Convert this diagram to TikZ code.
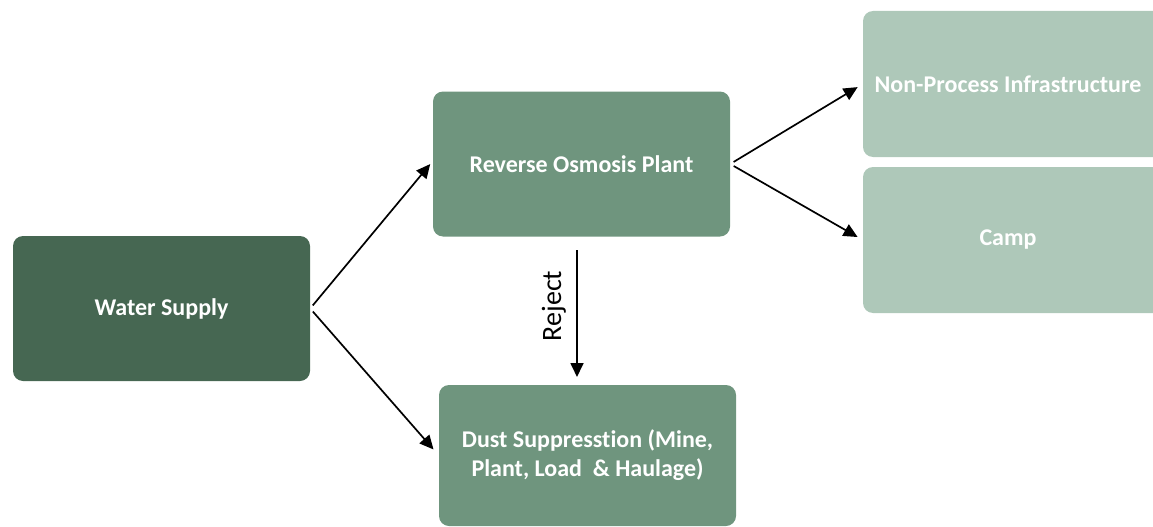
\documentclass[tikz,border=0pt]{standalone}
\usepackage{fontspec}
\setmainfont[Ligatures={NoCommon}, RawFeature={-liga;-dlig}]{Carlito}
\usetikzlibrary{arrows.meta}
\definecolor{darkgreen}{RGB}{70,103,82}
\definecolor{midgreen}{RGB}{111,149,126}
\definecolor{lightgreen}{RGB}{174,200,185}
\begin{document}
\begin{tikzpicture}[x=1pt,y=-1pt,
  box/.style={rounded corners=10pt, minimum width=297pt, minimum height=145pt,
    inner sep=0pt, text=white, align=center,
    font=\bfseries\fontsize{24}{29}\selectfont},
  flow/.style={line width=1.7pt, -{Triangle[length=14pt,width=13pt]}}]
\useasboundingbox (0,0) rectangle (1153,527);

% process boxes
\node[box, fill=darkgreen] (ws) at (161.5,308.5) {Water Supply};
\node[box, fill=midgreen] (ro) at (581.5,164) {Reverse Osmosis Plant};
\node[box, fill=midgreen, minimum height=141pt] (dust) at (587.5,455.5)
  {\raisebox{-2pt}{Dust Suppresstion (Mine,}\\\raisebox{-2pt}{Plant, Load\ \ \& Haulage)}};
\node[box, fill=lightgreen, minimum width=300pt, minimum height=146pt] (npi) at (1013,84)
  {\hspace*{-10pt}Non-Process Infrastructure};
\node[box, fill=lightgreen, minimum width=300pt, minimum height=146pt] (camp) at (1013,240)
  {\hspace*{-10pt}\raisebox{-3pt}{Camp}};

% flows
\draw[flow, shorten <=4pt, shorten >=4pt] (ws.east) -- ([yshift=3pt]ro.west);
\draw[flow, shorten <=4pt, shorten >=8pt] (ws.east) -- (dust.west);
\draw[flow, shorten <=4pt, shorten >=6pt] (ro.east) -- (npi.west);
\draw[flow, shorten <=4pt, shorten >=6pt] (ro.east) -- (camp.west);

% reject stream
\coordinate (rejtop) at (577,250);
\coordinate (rejend) at (577,377);
\draw[flow] (rejtop) -- (rejend);
\node[rotate=90, font=\fontsize{28}{32}\selectfont, inner sep=0pt] (rej) at (554,306) {Reject};
\end{tikzpicture}
\end{document}
